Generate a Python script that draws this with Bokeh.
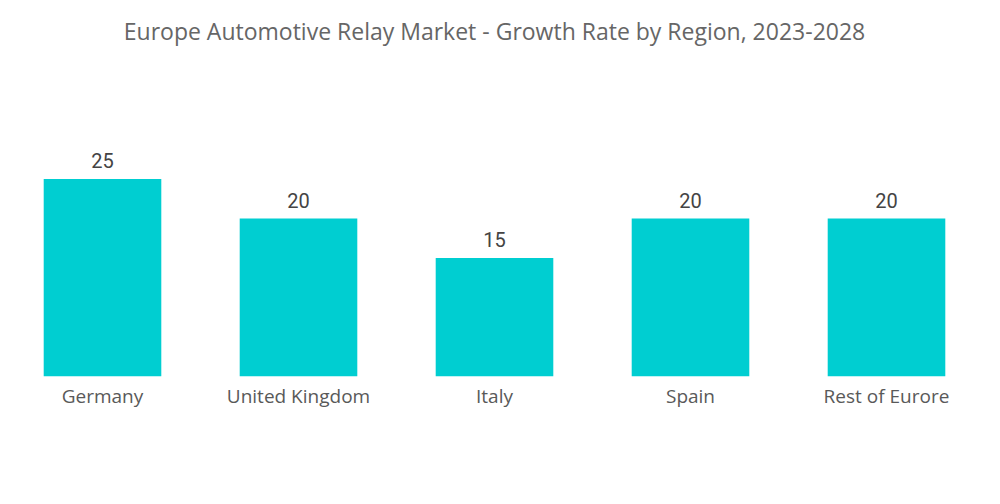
from bokeh.plotting import figure
from bokeh.models import ColumnDataSource, LabelSet, Range1d
from bokeh.core.properties import value
from bokeh.embed import file_html
from bokeh.resources import INLINE

title = "Europe Automotive Relay Market - Growth Rate by Region, 2023-2028"
regions = ["Germany", "United Kingdom", "Italy", "Spain", "Rest of Eurore"]
growth = [25, 20, 15, 20, 20]
labels = [str(v) for v in growth]

src = ColumnDataSource(dict(region=regions, growth=growth, label=labels))

y_max = 47.6
p = figure(x_range=regions, y_range=Range1d(0, y_max), width=988, height=488,
           output_backend="svg", toolbar_location=None,
           min_border_left=4, min_border_right=4, min_border_top=0, min_border_bottom=112)

p.vbar(x="region", top="growth", width=0.6, source=src, color="#00CED1", line_color=None)

p.add_layout(LabelSet(x="region", y="growth", text="label", source=src,
                      text_align="center", text_baseline="bottom", y_offset=11,
                      text_font=value("Roboto"), text_font_size="20px", text_color="#444444"))

# chart title, centred over the middle category near the top of the canvas
p.text(x=[regions[2]], y=[y_max * 0.92], text=[title], text_align="center",
       text_baseline="middle", text_font=value("Open Sans"), text_font_size="23px",
       text_color="#666666")

p.outline_line_color = None
p.xgrid.grid_line_color = None
p.ygrid.grid_line_color = None
p.yaxis.visible = False
p.xaxis.axis_line_color = None
p.xaxis.major_tick_line_color = None
p.xaxis.minor_tick_line_color = None
p.xaxis.major_label_text_font = "Open Sans"
p.xaxis.major_label_text_font_size = "19px"
p.xaxis.major_label_text_color = "#595959"
p.xaxis.major_label_standoff = 0
p.background_fill_color = "white"
p.border_fill_color = "white"

open("out.html", "w").write(file_html(p, INLINE))
